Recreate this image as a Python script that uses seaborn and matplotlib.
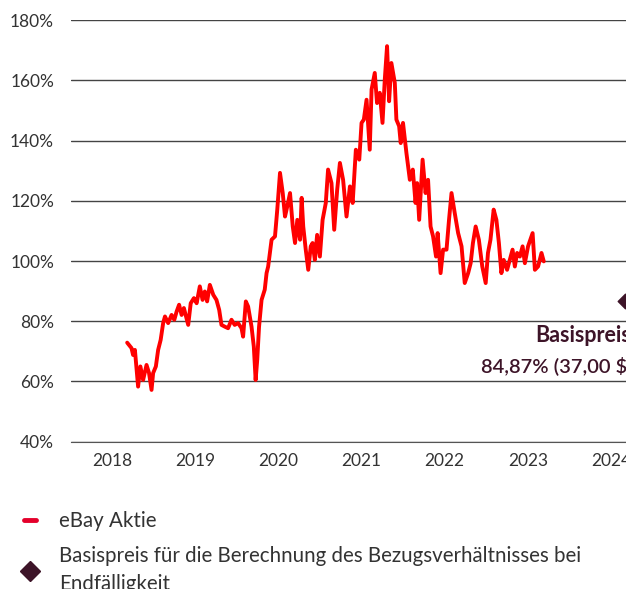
import pandas as pd
import seaborn as sns
import matplotlib.pyplot as plt
import matplotlib.dates as mdates
from matplotlib.lines import Line2D

# eBay share price in % of the reference level
dates = [
    "2018-09-06", "2018-09-25", "2018-10-02", "2018-10-10", "2018-10-24", "2018-11-03",
    "2018-11-15", "2018-11-30", "2018-12-11", "2018-12-22", "2018-12-29",
    "2019-01-10", "2019-01-20", "2019-01-31", "2019-02-11", "2019-02-19", "2019-03-05",
    "2019-03-20", "2019-04-01", "2019-04-11", "2019-04-22", "2019-05-03", "2019-05-13",
    "2019-06-01", "2019-06-12", "2019-06-26", "2019-07-08", "2019-07-22", "2019-08-03",
    "2019-08-13", "2019-08-23", "2019-09-04", "2019-09-19", "2019-10-03", "2019-10-15",
    "2019-10-25", "2019-11-09", "2019-11-23", "2019-12-08", "2019-12-22",
    "2020-01-06", "2020-01-21", "2020-01-28", "2020-02-09", "2020-02-19", "2020-03-05",
    "2020-03-15", "2020-03-23", "2020-03-30", "2020-04-07", "2020-04-18", "2020-05-02",
    "2020-05-10", "2020-05-17", "2020-06-01", "2020-06-16", "2020-06-26", "2020-07-08",
    "2020-07-20", "2020-07-30", "2020-08-09", "2020-08-21", "2020-09-02", "2020-09-12",
    "2020-09-22", "2020-10-04", "2020-10-11", "2020-10-18", "2020-10-29", "2020-11-09",
    "2020-11-20", "2020-11-28", "2020-12-08", "2020-12-18", "2020-12-30",
    "2021-01-11", "2021-01-25", "2021-02-04", "2021-02-19", "2021-03-03", "2021-03-16",
    "2021-03-28", "2021-04-11", "2021-04-26", "2021-05-11", "2021-05-23", "2021-06-06",
    "2021-06-21", "2021-07-01", "2021-07-11", "2021-07-23", "2021-08-06", "2021-08-14",
    "2021-08-28", "2021-09-07", "2021-09-19", "2021-10-01", "2021-10-11", "2021-10-21",
    "2021-10-30", "2021-11-09", "2021-11-24", "2021-12-01", "2021-12-13", "2021-12-20",
    "2021-12-30",
    "2022-01-14", "2022-01-29", "2022-02-11", "2022-02-23", "2022-03-02", "2022-03-11",
    "2022-03-26", "2022-04-08", "2022-04-19", "2022-04-30", "2022-05-11", "2022-05-24",
    "2022-05-31", "2022-06-13", "2022-06-24", "2022-07-09", "2022-07-20", "2022-07-31",
    "2022-08-14", "2022-08-29", "2022-09-13", "2022-09-27", "2022-10-12", "2022-10-23",
    "2022-11-02", "2022-11-14", "2022-11-28", "2022-12-13", "2022-12-28",
    "2023-01-07", "2023-01-18", "2023-02-01", "2023-02-13", "2023-02-24", "2023-03-07",
    "2023-03-17", "2023-04-01", "2023-04-13", "2023-04-25", "2023-05-05", "2023-05-15",
    "2023-05-27", "2023-06-08", "2023-06-18", "2023-07-02", "2023-07-22", "2023-08-01",
    "2023-08-15", "2023-08-30", "2023-09-09",
]
values = [
    72.9, 71.1, 68.8, 70.5, 58.3, 65.0,
    60.5, 65.5, 62.8, 57.2, 62.8,
    65.0, 70.5, 73.8, 79.4, 81.6, 79.4,
    82.1, 80.5, 83.2, 85.5, 82.1, 84.4,
    78.8, 86.0, 87.7, 86.0, 91.6, 87.1,
    89.9, 86.6, 92.1, 88.8, 87.1, 83.8,
    78.8, 78.2, 77.7, 80.5, 78.8,
    79.4, 77.7, 74.9, 86.6, 84.9, 78.2,
    71.6, 60.5, 67.2, 78.2, 87.1, 90.5,
    96.0, 98.2, 107.1, 108.2, 117.1, 129.3,
    122.6, 114.8, 118.2, 122.6, 111.5, 106.0,
    113.7, 107.1, 121.0, 111.5, 103.8, 97.1,
    104.9, 106.0, 100.4, 108.7, 101.5,
    113.7, 119.3, 130.4, 125.9, 110.4, 123.7,
    132.6, 127.0, 114.8, 124.8, 119.3, 137.0,
    133.7, 145.9, 147.0, 153.6, 137.0, 157.0,
    162.5, 152.5, 155.9, 145.9, 160.3, 171.4,
    153.1, 165.8, 159.2, 147.0, 144.8, 139.2,
    145.9,
    135.9, 127.0, 130.4, 119.3, 125.9, 113.7,
    133.7, 122.6, 127.0, 111.5, 108.2, 101.5,
    109.3, 96.0, 103.8, 103.8, 113.7, 122.6,
    116.0, 109.3, 104.9, 92.7, 96.0, 99.3,
    106.0, 111.5, 107.1, 98.2, 92.7,
    102.7, 107.1, 117.1, 113.7, 106.0, 96.0,
    100.4, 97.1, 100.4, 103.8, 98.2, 102.7,
    101.5, 104.9, 99.3, 104.9, 109.3, 97.1,
    98.2, 102.7, 99.9,
]

strike_date = "2024-08-29"
strike_value = 86.6
strike_label = "84,87% (37,00 $)"

df = pd.DataFrame({"Datum": pd.to_datetime(dates), "Wert": values})

sns.set_style("white")
plt.rcParams["font.family"] = ["Lato", "DejaVu Sans"]

text_col = "#333333"
dark = "#3d1428"

fig = plt.figure(figsize=(6.26, 5.89), dpi=100)
ax = fig.add_axes([0.1129, 0.2501, 0.9304, 0.7155])

sns.lineplot(data=df, x="Datum", y="Wert", color="#ff0000", linewidth=2.8, ax=ax)
ax.scatter([pd.Timestamp(strike_date)], [strike_value], marker="D", s=55,
           color=dark, zorder=5, clip_on=False)

ax.annotate("Basispreis", (pd.Timestamp(strike_date), strike_value),
            xytext=(6, -34), textcoords="offset pixels", ha="right", va="center",
            fontsize=15.5, fontweight="bold", color=dark)
ax.annotate(strike_label, (pd.Timestamp(strike_date), strike_value),
            xytext=(8, -64), textcoords="offset pixels", ha="right", va="center",
            fontsize=14.5, fontweight="semibold", color=dark)

ax.set_xlim(pd.Timestamp("2018-01-01"), pd.Timestamp("2025-01-01"))
ax.set_ylim(40, 180)
ax.set_yticks(range(40, 181, 20))
ax.set_yticklabels([f"{v}%" for v in range(40, 181, 20)])

ax.xaxis.set_major_locator(mdates.YearLocator())
ax.xaxis.set_major_formatter(plt.NullFormatter())
ax.xaxis.set_minor_locator(mdates.MonthLocator(bymonth=7))
ax.xaxis.set_minor_formatter(mdates.DateFormatter("%Y"))
ax.tick_params(axis="x", which="major", length=4, width=1, color="#555555")
ax.tick_params(axis="x", which="minor", length=0, pad=8, labelsize=12.5, labelcolor=text_col)
ax.tick_params(axis="y", length=0, pad=12, labelsize=12.5, labelcolor=text_col)

ax.yaxis.grid(True, color="#444444", linewidth=1)
ax.set_axisbelow(True)
for s in ["top", "right", "left"]:
    ax.spines[s].set_visible(False)
ax.spines["bottom"].set_color("#555555")
ax.set_xlabel("")
ax.set_ylabel("")

handles = [
    Line2D([], [], color="#e4002b", linewidth=3.5),
    Line2D([], [], color=dark, marker="D", markersize=10, linestyle="None"),
]
labels = ["eBay Aktie", "Basispreis für die Berechnung des Bezugsverhältnisses bei\nEndfälligkeit"]
leg = fig.legend(handles, labels, loc="upper left", bbox_to_anchor=(0.008, 0.163),
                 frameon=False, fontsize=14.8, handlelength=0.6, handletextpad=1.15,
                 labelspacing=0.7, labelcolor=text_col)
for t in leg.get_texts():
    t.set_linespacing(1.5)

fig.savefig("out.png", dpi=100)
